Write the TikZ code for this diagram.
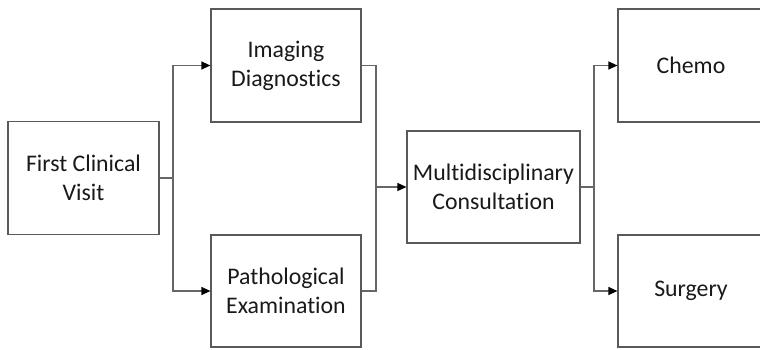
\documentclass[tikz,border=0pt]{standalone}
\usepackage{fontspec}
\setmainfont[Ligatures={NoCommon,NoRequired,NoContextual}]{Carlito}
\usetikzlibrary{arrows.meta}
\begin{document}
\begin{tikzpicture}[x=1pt,y=-1pt,
  line/.style={draw=black!60, line width=1.2pt},
  arrow/.style={line, -{Triangle[length=9pt,width=8pt,color=black]}},
  box/.style={draw=black!65, line width=1.2pt, fill=white, align=center,
    inner sep=0pt, font=\fontsize{23.8}{29}\selectfont, text=black!90}]
\useasboundingbox (0,0) rectangle (760,349);
% process steps
\node[box, minimum width=151, minimum height=113] (visit)   at (83.5,178)  {First Clinical\\Visit};
\node[box, minimum width=150, minimum height=113] (imaging) at (286,65.5)  {Imaging\\Diagnostics};
\node[box, minimum width=150, minimum height=112] (patho)   at (286,291)   {Pathological\\Examination};
\node[box, minimum width=173, minimum height=112] (mdt)     at (493.5,187) {Multidisciplinary\\Consultation};
\node[box, minimum width=146, minimum height=113] (chemo)   at (691,65.5)  {Chemo};
\node[box, minimum width=146, minimum height=112] (surgery) at (691,291)   {Surgery};
% branch and merge points
\coordinate (split1) at (173,178);
\coordinate (merge)  at (376,187);
\coordinate (split2) at (594,187);
% connectors
\draw[line] (visit.east) -- (split1);
\draw[arrow] (split1) |- (imaging.west);
\draw[arrow] (split1) |- (patho.west);
\draw[line] (imaging.east) -| (merge);
\draw[line] (patho.east) -| (merge);
\draw[arrow] (merge) -- (mdt.west);
\draw[line] (mdt.east) -- (split2);
\draw[arrow] (split2) |- (chemo.west);
\draw[arrow] (split2) |- (surgery.west);
\end{tikzpicture}
\end{document}
